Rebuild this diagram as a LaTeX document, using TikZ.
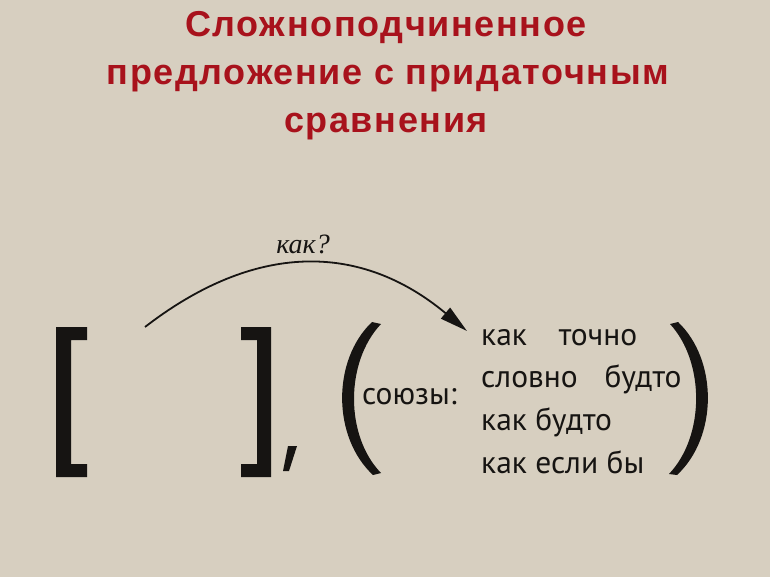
\documentclass[tikz,border=0pt]{standalone}
\usepackage{fontspec}
\usetikzlibrary{arrows.meta}
\newfontfamily\titlefont[LetterSpace=4.5]{Liberation Sans}
\newfontfamily\listfont{PT Sans}
\newfontfamily\askfont{Liberation Serif}
\definecolor{canvas}{RGB}{215,207,192}
\definecolor{titlered}{RGB}{168,18,28}
\definecolor{ink}{RGB}{22,20,18}
\tikzset{
  titleline/.style={anchor=base, inner sep=0pt, text=titlered,
    font=\titlefont\bfseries\fontsize{36}{43}\selectfont},
  conj/.style={anchor=base west, inner sep=0pt, text=ink,
    font=\listfont\fontsize{31.5}{37}\selectfont},
  question/.style={anchor=base, inner sep=0pt, text=ink,
    font=\askfont\itshape\fontsize{28}{33}\selectfont},
  glyph/.style={fill=ink, draw=none}
}
\begin{document}
\begin{tikzpicture}[x=1pt,y=-1pt]
      \fill[canvas] (0,0) rectangle (770,577);
      \useasboundingbox (0,0) rectangle (770,577);
      % title
      \node[titleline] (title1) at (386,37) {Сложноподчиненное};
      \node[titleline] (title2) at (388,85) {предложение с придаточным};
      \node[titleline] (title3) at (386,133) {сравнения};
      % main clause
      \fill[glyph] (56,327) -- (87,327) -- (87,340) -- (71,340) -- (71,464)
        -- (87,464) -- (87,477) -- (56,477) -- cycle;
      \fill[glyph] (271,327) -- (241,327) -- (241,340) -- (257,340) -- (257,464)
        -- (241,464) -- (241,477) -- (271,477) -- cycle;
      \fill[glyph] (288,446) -- (297,446) -- (289,471) -- (283,471) -- cycle;
      % subordinate clause
      \fill[glyph] (372,322) .. controls (332,360) and (332,437) .. (373,475)
        -- (381,473) .. controls (345,436) and (345,362) .. (381,324) -- cycle;
      \fill[glyph] (678,322) .. controls (718,360) and (718,437) .. (677,475)
        -- (669,474) .. controls (705,436) and (705,362) .. (670,324) -- cycle;
      \node[conj] (unions) at (362,404) {союзы:};
      \node[conj] (kaktochno) at (481,345) {как\hspace{32pt}точно};
      \node[conj] (slovno) at (481,387) {словно\hspace{27pt}будто};
      \node[conj] (kakbudto) at (481,430) {как будто};
      \node[conj] (kakesli) at (481,473) {как если бы};
      % question arrow
      \coordinate (from) at (145,327);
      \coordinate (to) at (467,331);
      \draw[ink, line width=1.8pt, -{Triangle[length=28pt,width=14pt]}]
        (from) .. controls (255,242) and (360,242) .. (to);
      \node[question] (kak) at (303,253) {как?};
    \end{tikzpicture}
\end{document}
